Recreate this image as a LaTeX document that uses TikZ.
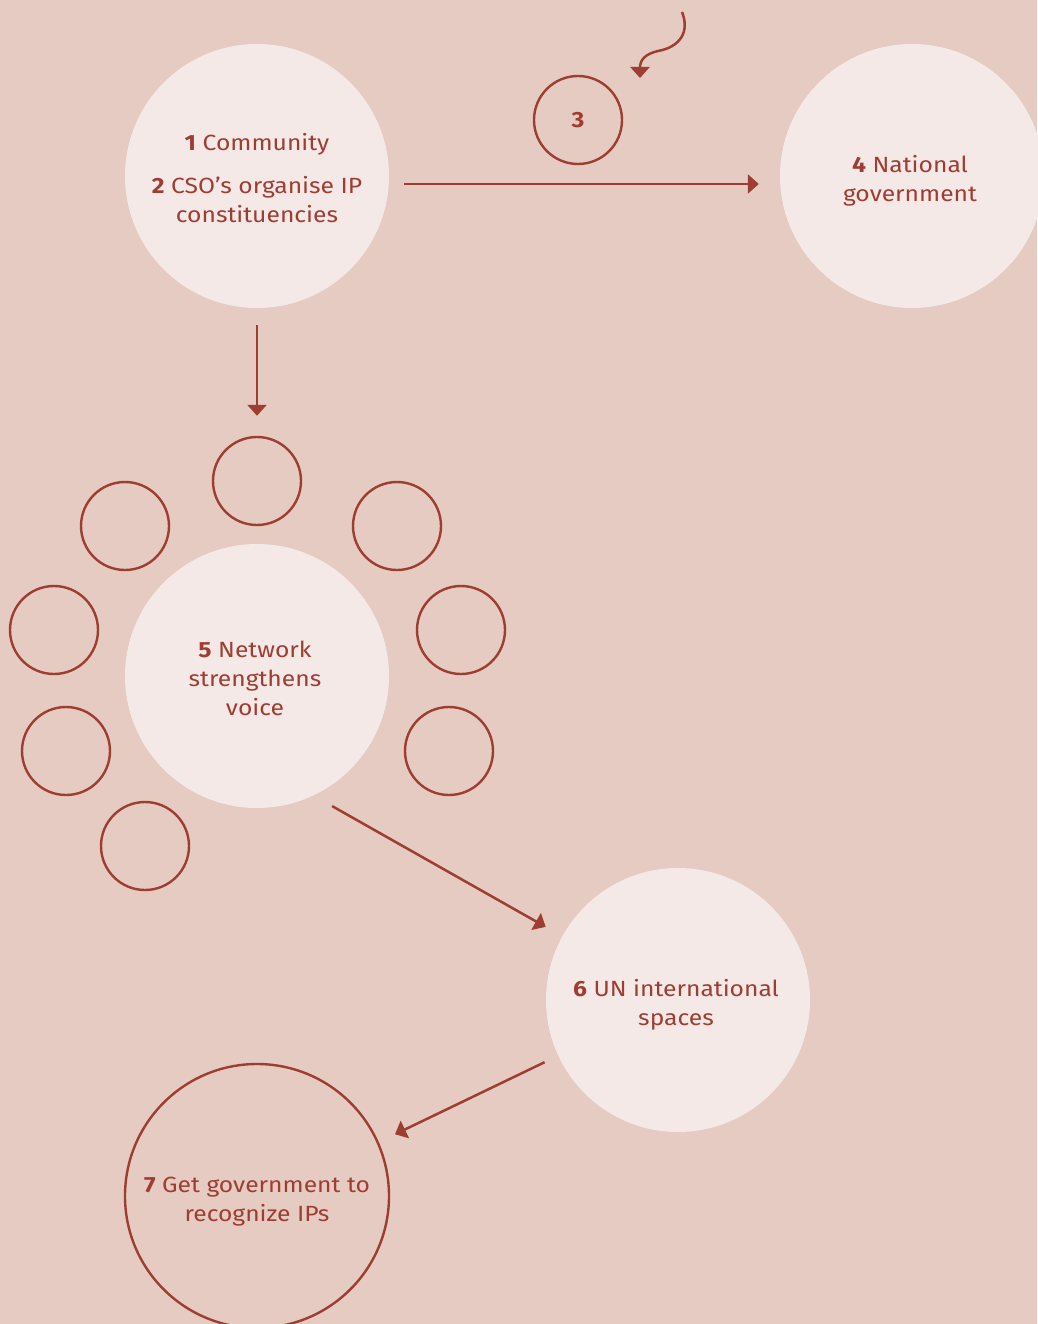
\documentclass[tikz,border=0pt]{standalone}
\usepackage{fontspec}
\setmainfont{Fira Sans}[FakeStretch=1.12]
\usetikzlibrary{arrows.meta,calc}
\definecolor{bgrose}{HTML}{E5CBC1}
\definecolor{disc}{HTML}{F4E9E6}
\definecolor{rust}{HTML}{9E3D32}

\begin{document}
\begin{tikzpicture}[x=1pt,y=1pt,
  big/.style={circle,fill=disc,minimum size=264pt,inner sep=0pt},
  bigring/.style={big,fill=none,draw=rust,line width=2.4pt},
  ring/.style={circle,draw=rust,line width=2.4pt,minimum size=88pt,inner sep=0pt,
    text=rust,font=\fontsize{22}{29}\selectfont\bfseries},
  txt/.style={align=center,inner sep=0pt,text=rust,font=\fontsize{22}{29}\selectfont},
  link/.style={draw=rust,line width=2.5pt,-{Triangle[length=11pt,width=19pt]}},
]
\useasboundingbox (0,0) rectangle (1037,-1324);
\fill[bgrose] (0,0) rectangle (1037,-1324);

% main stages
\node[big] (c1) at (257,-176) {};
\node[ring] (c3) at (578,-120) {3};
\node[big] (c4) at (912,-176) {};
\node[big] (c5) at (257,-676) {};
\node[big] (c6) at (678,-1000) {};
\node[bigring] (c7) at (257,-1196) {};

% stage captions
\node[txt] (t1) at ([yshift=-2pt]c1.center) {\textbf{1} Community\\[14pt]\textbf{2} CSO’s organise IP\\constituencies};
\node[txt] (t4) at ([shift={(-2pt,-5pt)}]c4.center) {\textbf{4} National\\government};
\node[txt] (t5) at ([shift={(-2pt,-2pt)}]c5.center) {\textbf{5} Network\\strengthens\\voice};
\node[txt] (t6) at ([shift={(-2pt,-5pt)}]c6.center) {\textbf{6} UN international\\spaces};
\node[txt] (t7) at ([yshift=-6pt]c7.center) {\textbf{7} Get government to\\recognize IPs};

% network members around stage 5
\node[ring] (r1) at (257,-481) {};
\node[ring] (r2) at (125,-526) {};
\node[ring] (r3) at (397,-526) {};
\node[ring] (r4) at (54,-630) {};
\node[ring] (r5) at (461,-630) {};
\node[ring] (r6) at (66,-751) {};
\node[ring] (r7) at (449,-751) {};
\node[ring] (r8) at (145,-846) {};

% incoming squiggle above stage 3
\coordinate (sqtail) at (682,-12);
\coordinate (sqhead) at (640,-78);
\draw[link] (sqtail) .. controls (690,-32) and (680,-47) .. (658,-51)
  .. controls (645,-54) and (640,-60) .. (sqhead);

% flow between stages
\draw[link] ([shift={(15,-8)}]c1.east) -- ([shift={(-21,-8)}]c4.west);
\draw[link] ([yshift=-17pt]c1.south) -- ([yshift=20pt]r1.north);
\draw[link] ([shift={(-60:18)}]c5.-60) -- ([shift={(151.6:19)}]c6.151.6);
\draw[link] ([shift={(-155:15)}]c6.-155) -- ([shift={(24.9:18)}]c7.24.9);
\end{tikzpicture}
\end{document}
